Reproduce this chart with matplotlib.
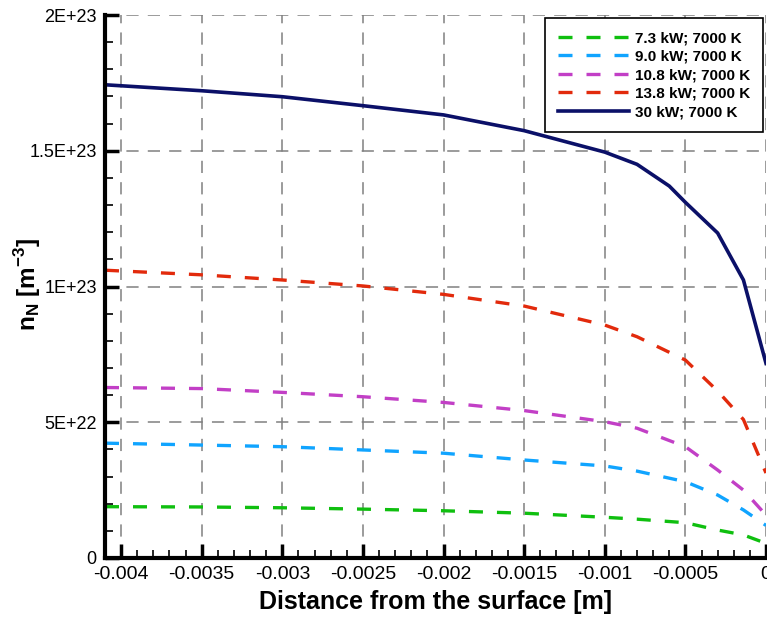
import matplotlib
matplotlib.use("Agg")
import matplotlib.pyplot as plt
import numpy as np
from matplotlib.ticker import MultipleLocator, FuncFormatter

plt.rcParams['font.family'] = ['Liberation Sans', 'DejaVu Sans']
plt.rcParams['mathtext.fontset'] = 'custom'
plt.rcParams['mathtext.rm'] = 'Liberation Sans'
plt.rcParams['mathtext.bf'] = 'Liberation Sans:bold'

SCALE = 1e23

# distance from the surface [m]
x_dash = [-0.0041, -0.0035, -0.003, -0.0025, -0.002, -0.0015, -0.001, -0.0008, -0.0005, -0.0003, -0.00014, 0.0]
n_73 = [0.189, 0.188, 0.185, 0.180, 0.174, 0.165, 0.150, 0.143, 0.130, 0.103, 0.085, 0.054]
n_90 = [0.423, 0.416, 0.410, 0.398, 0.386, 0.361, 0.339, 0.320, 0.281, 0.232, 0.177, 0.120]
n_108 = [0.628, 0.624, 0.610, 0.594, 0.573, 0.543, 0.502, 0.478, 0.410, 0.324, 0.250, 0.158]
n_138 = [1.060, 1.043, 1.024, 1.002, 0.971, 0.928, 0.858, 0.815, 0.729, 0.615, 0.510, 0.313]

x_30 = [-0.0041, -0.0035, -0.003, -0.0025, -0.002, -0.0015, -0.001, -0.0008, -0.0006, -0.0005, -0.0003, -0.00014, 0.0]
n_30 = [1.743, 1.721, 1.699, 1.666, 1.632, 1.574, 1.495, 1.45, 1.37, 1.31, 1.197, 1.024, 0.717]

labels = ['7.3 kW; 7000 K', '9.0 kW; 7000 K', '10.8 kW; 7000 K', '13.8 kW; 7000 K', '30 kW; 7000 K']
colors = ['#0fbf0f', '#10a4ff', '#c23fc6', '#e22a0c', '#0b1068']

y_ticks = [0, 0.5e23, 1e23, 1.5e23, 2e23]
y_ticklabels = ['0', '5E+22', '1E+23', '1.5E+23', '2E+23']

fig = plt.figure(figsize=(7.67, 6.18), dpi=100)
ax = fig.add_axes([105 / 767, 60 / 618, 661 / 767, 543 / 618])

dash = (0, (4.2, 4.2))
for ys, lab, col in zip([n_73, n_90, n_108, n_138], labels[:4], colors[:4]):
    ax.plot(x_dash, np.array(ys) * SCALE, color=col, lw=2.4, linestyle=dash, label=lab)
ax.plot(x_30, np.array(n_30) * SCALE, color=colors[4], lw=2.6, label=labels[4])

ax.set_xlim(-0.0041, 0.0)
ax.set_ylim(0, 2e23)

ax.xaxis.set_major_locator(MultipleLocator(0.0005))
ax.xaxis.set_minor_locator(MultipleLocator(0.0001))
ax.xaxis.set_major_formatter(FuncFormatter(lambda v, p: '%g' % round(v, 6)))
ax.set_yticks(y_ticks)
ax.set_yticklabels(y_ticklabels)
ax.yaxis.set_minor_locator(MultipleLocator(1e22))

ax.grid(which='major', color='#808080', linestyle=(0, (8, 6)), linewidth=1.1)
ax.set_axisbelow(True)

for s in ['top', 'right']:
    ax.spines[s].set_visible(False)
for s in ['left', 'bottom']:
    ax.spines[s].set_linewidth(3)

ax.tick_params(which='major', direction='in', length=10, width=2.5, pad=6)
ax.tick_params(which='minor', direction='in', length=6, width=1.2)
ax.tick_params(axis='x', labelsize=14)
ax.tick_params(axis='y', labelsize=13)

ax.set_xlabel('Distance from the surface [m]', fontsize=18, fontweight='bold', labelpad=5)
ax.set_ylabel(r'n$_{\mathbf{N}}$ [m$^{\mathbf{-3}}$]', fontsize=17.5, fontweight='bold')
ax.yaxis.set_label_coords(-0.094, 0.505)

leg = ax.legend(loc='upper right', bbox_to_anchor=(1.0, 1.0), borderaxespad=0.2,
                fancybox=False, edgecolor='black', framealpha=1, handlelength=4.6,
                prop={'weight': 'bold', 'size': 11}, borderpad=0.85, labelspacing=0.3,
                handletextpad=0.4)
leg.get_frame().set_linewidth(1.2)

fig.savefig('out.png', dpi=100)
